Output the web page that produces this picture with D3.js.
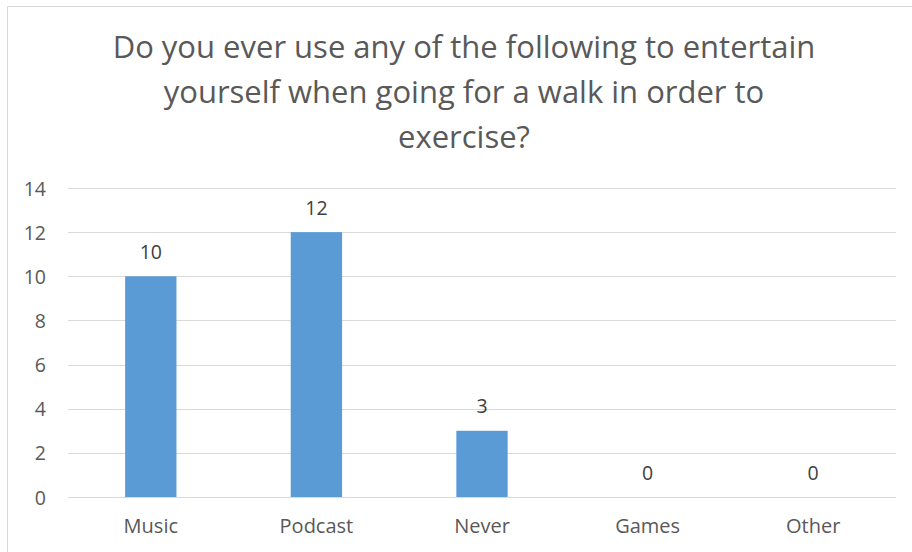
<!DOCTYPE html>
<html>
<head>
<meta charset="utf-8">
<script src="https://cdn.jsdelivr.net/npm/d3@7"></script>
<style>
  html, body { margin: 0; padding: 0; background: #fff; }
  svg { display: block; }
  text { font-family: "Open Sans", Lato, sans-serif; }
</style>
</head>
<body>
<svg id="chart" width="912" height="552"></svg>
<script>
const categories = ["Music", "Podcast", "Never", "Games", "Other"];
const values = [10, 12, 3, 0, 0];
const yTicks = [0, 2, 4, 6, 8, 10, 12, 14];
const titleLines = [
  "Do you ever use any of the following to entertain",
  "yourself when going for a walk in order to",
  "exercise?"
];

const FONT = "'Open Sans', Lato, sans-serif";
const svg = d3.select("#chart");

// chart frame
svg.append("rect")
  .attr("x", 7.5).attr("y", 6.5)
  .attr("width", 920).attr("height", 560)
  .attr("fill", "#fff").attr("stroke", "#d9d9d9").attr("stroke-width", 1);

const plot = { left: 68, right: 896, top: 188, bottom: 497 };

const x = d3.scaleBand()
  .domain(categories)
  .range([plot.left, plot.right])
  .paddingInner(0.69).paddingOuter(0.345);

const y = d3.scaleLinear().domain([0, 14]).range([plot.bottom, plot.top]);

// gridlines
svg.append("g")
  .selectAll("line")
  .data(yTicks)
  .join("line")
  .attr("x1", plot.left).attr("x2", plot.right)
  .attr("y1", d => Math.round(y(d)) + 0.5).attr("y2", d => Math.round(y(d)) + 0.5)
  .attr("stroke", "#d9d9d9").attr("stroke-width", 1);

// y axis labels
const yAxis = d3.axisLeft(y).tickValues(yTicks).tickSize(0).tickPadding(0);
const gy = svg.append("g").attr("transform", `translate(${plot.left - 22},0)`).call(yAxis);
gy.select(".domain").remove();
gy.selectAll("text")
  .attr("dy", null).attr("y", 7)
  .attr("font-size", 19.5).attr("fill", "#595959")
  .style("font-family", FONT);

// x axis labels
const xAxis = d3.axisBottom(x).tickSize(0).tickPadding(0);
const gx = svg.append("g").attr("transform", `translate(0,${plot.bottom + 36})`).call(xAxis);
gx.select(".domain").remove();
gx.selectAll("text")
  .attr("dy", null).attr("y", 0)
  .attr("font-size", 20).attr("fill", "#595959")
  .style("font-family", FONT);

// bars
const rows = categories.map((c, i) => ({ c, v: values[i] }));
svg.append("g")
  .selectAll("rect")
  .data(rows)
  .join("rect")
  .attr("x", d => x(d.c))
  .attr("width", x.bandwidth())
  .attr("y", d => y(d.v))
  .attr("height", d => y(0) - y(d.v))
  .attr("fill", "#5b9bd5");

// value labels
svg.append("g")
  .selectAll("text")
  .data(rows)
  .join("text")
  .attr("x", d => x(d.c) + x.bandwidth() / 2)
  .attr("y", d => y(d.v) - 17.5)
  .attr("text-anchor", "middle")
  .attr("font-size", 19.5)
  .attr("fill", "#404040")
  .text(d => d.v);

// title
svg.append("g")
  .selectAll("text")
  .data(titleLines)
  .join("text")
  .attr("x", 464)
  .attr("y", (d, i) => 58 + i * 45)
  .attr("text-anchor", "middle")
  .attr("font-size", 31)
  .attr("fill", "#595959")
  .text(d => d);
</script>
</body>
</html>
